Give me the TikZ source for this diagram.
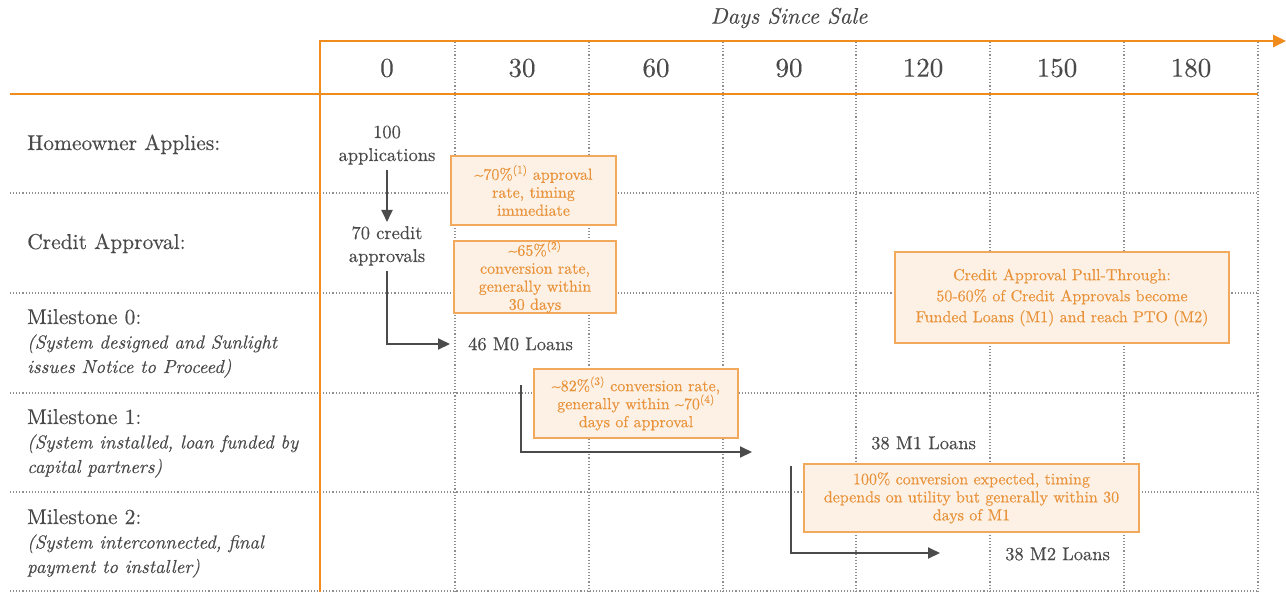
\documentclass[tikz,border=0pt]{standalone}
\usepackage{fontspec}
\setmainfont{lmroman10-regular.otf}[
  UprightFeatures={FakeBold=0.35},
  ItalicFont=lmroman10-italic.otf,
  ItalicFeatures={FakeBold=0.35},
  BoldFont=lmroman10-bold.otf,
  BoldItalicFont=lmroman10-bolditalic.otf]
\usetikzlibrary{arrows.meta}
\definecolor{axisorange}{HTML}{F08C1E}
\definecolor{boxfill}{HTML}{FCF1E4}
\definecolor{boxline}{HTML}{F2A95C}
\definecolor{boxtext}{HTML}{E9923A}
\definecolor{ink}{HTML}{4A4A4A}
\definecolor{arrowink}{HTML}{4B4B4B}
\definecolor{gridgray}{HTML}{8E8E8E}
% italic description line under a stage name
\newcommand{\stagenote}[1]{{\fontsize{18.8}{24.5}\selectfont\itshape #1}}
\begin{document}
\begin{tikzpicture}[x=1pt,y=-1pt,
  rowlabel/.style={anchor=base west, align=left, text=ink, inner sep=0pt,
    font=\fontsize{21.5}{24.5}\selectfont},
  colhead/.style={text=ink, font=\fontsize{27}{30}\selectfont},
  count/.style={anchor=base, align=center, text=ink, inner sep=2pt,
    font=\fontsize{18.5}{23}\selectfont},
  loans/.style={anchor=west, text=ink, inner sep=2pt,
    font=\fontsize{18.5}{23}\selectfont},
  notebox/.style={draw=boxline, fill=boxfill, line width=1.2pt, text=boxtext,
    align=center, inner sep=0pt, font=\fontsize{16}{18}\selectfont},
  gridline/.style={gridgray, line width=1.2pt, dash pattern=on 1.1pt off 2pt},
  axisline/.style={axisorange, line width=2pt},
  flow/.style={arrowink, line width=2pt, -{Triangle[length=12pt,width=11pt]}}]
\useasboundingbox (0,0) rectangle (1286,592);

% dotted grid: row separators and column separators
\foreach \yy in {193,293,393,492,591}
  \draw[gridline] (10,\yy) -- (1258,\yy);
\foreach \xx in {455,589,723,856,990,1124,1258}
  \draw[gridline] (\xx,42) -- (\xx,592);

% time axis and header frame
\draw[axisline] (10,94) -- (1258,94);
\draw[axisline] (320,592) -- (320,41);
\draw[axisorange, line width=2.5pt, -{Triangle[length=13pt,width=12pt]}] (319,41) -- (1286,41);
\node[text=ink, font=\fontsize{22.5}{26}\selectfont\itshape\addfontfeature{FakeBold=1.4}] (axistitle) at (789,18) {Days Since Sale};

% day columns
\foreach \xx/\dd in {387/0,522/30,656/60,789/90,923/120,1057/150,1191/180}
  \node[colhead] (day\dd) at (\xx,68) {\dd};

% stage labels (anchored at the baseline of their last line)
\node[rowlabel] (homeowner) at (27,150) {Homeowner Applies:};
\node[rowlabel] (credit) at (27,249) {Credit Approval:};
\node[rowlabel] (ms0) at (27,373) {Milestone 0:\\\stagenote{(System designed and Sunlight}\\\stagenote{issues Notice to Proceed)}};
\node[rowlabel] (ms1) at (27,473) {Milestone 1:\\\stagenote{(System installed, loan funded by}\\\stagenote{capital partners)}};
\node[rowlabel] (ms2) at (27,573) {Milestone 2:\\\stagenote{(System interconnected, final}\\\stagenote{payment to installer)}};

% loan counts
\node[count] (apps) at (387,161) {100\\applications};
\node[count] (appr) at (387,262) {70 credit\\approvals};
\node[loans] (m0) at (466,344) {46 M0 Loans};
\node[loans] (m1) at (869,443) {38 M1 Loans};
\node[loans] (m2) at (1003,554) {38 M2 Loans};

% conversion notes
\node[notebox, minimum width=165pt, minimum height=69pt] (note1) at (533.5,190.5)
  {\textasciitilde70\%\textsuperscript{(1)} approval\\rate, timing\\immediate};
\node[notebox, minimum width=162pt, minimum height=72pt] (note2) at (535,277)
  {\textasciitilde65\%\textsuperscript{(2)}\\conversion rate,\\generally within\\30 days};
\node[notebox, minimum width=204pt, minimum height=69pt] (note3) at (636,403.5)
  {\textasciitilde82\%\textsuperscript{(3)} conversion rate,\\generally within \textasciitilde70\textsuperscript{(4)}\\days of approval};
\node[notebox, minimum width=335pt, minimum height=68pt] (note4) at (971.5,498)
  {100\% conversion expected, timing\\depends on utility but generally within 30\\days of M1};
\node[notebox, minimum width=334pt, minimum height=91pt, font=\fontsize{16}{21}\selectfont] (note5) at (1062,297.5)
  {Credit Approval Pull-Through:\\50-60\% of Credit Approvals become\\Funded Loans (M1) and reach PTO (M2)};

% flow arrows
\draw[flow, shorten <=3pt, shorten >=2pt] (apps.south) -- (appr.north);
\draw[flow, shorten <=3pt, shorten >=16pt] (appr.south) |- (m0.west);
\coordinate (m1start) at (521,385);
\coordinate (m1end) at (752,452);
\draw[flow] (m1start) |- (m1end);
\coordinate (m2start) at (791,466);
\coordinate (m2end) at (940,553);
\draw[flow] (m2start) |- (m2end);
\end{tikzpicture}
\end{document}
